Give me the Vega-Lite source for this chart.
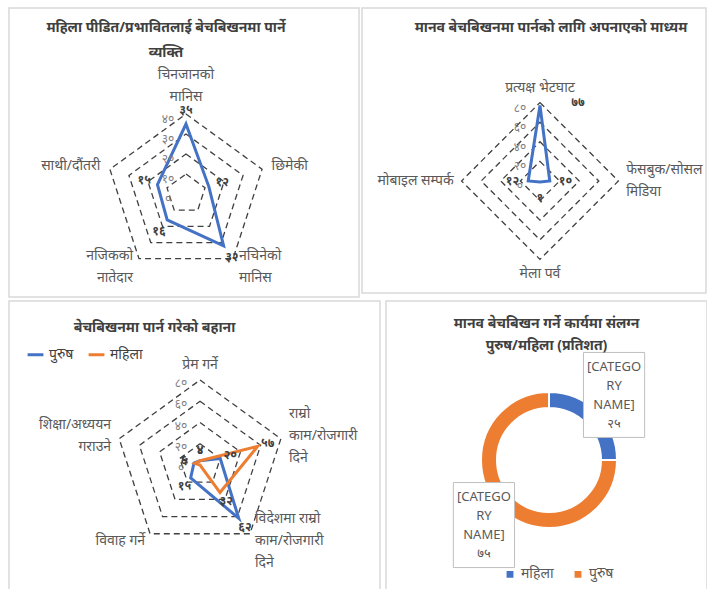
{
  "$schema": "https://vega.github.io/schema/vega-lite/v6.json",
  "background": "white",
  "padding": {"left": 8, "top": 7, "right": 0, "bottom": 0},
  "config": {
    "font": "Noto Sans",
    "view": {"stroke": "#d9d9d9", "strokeWidth": 1.5},
    "locale": {"number": {"decimal": ".", "thousands": ",", "grouping": [3], "currency": ["", ""], "numerals": ["०","१","२","३","४","५","६","७","८","९"]}}
  },
  "datasets": {
    "p1": [
      {"k": "चिनजानको\nमानिस", "i": 0, "v": 35},
      {"k": "छिमेकी", "i": 1, "v": 12},
      {"k": "नचिनेको\nमानिस", "i": 2, "v": 32},
      {"k": "नजिकको\nनातेदार", "i": 3, "v": 16},
      {"k": "साथी/दौंतरी", "i": 4, "v": 15}
    ],
    "p2": [
      {"k": "प्रत्यक्ष भेटघाट", "i": 0, "v": 77},
      {"k": "फेसबुक/सोसल\nमिडिया", "i": 1, "v": 10},
      {"k": "मेला पर्व", "i": 2, "v": 1},
      {"k": "मोबाइल सम्पर्क", "i": 3, "v": 12}
    ],
    "p3": [
      {"k": "प्रेम गर्ने", "i": 0, "s": "पुरुष", "v": 4},
      {"k": "राम्रो\nकाम/रोजगारी\nदिने", "i": 1, "s": "पुरुष", "v": 20},
      {"k": "विदेशमा राम्रो\nकाम/रोजगारी\nदिने", "i": 2, "s": "पुरुष", "v": 62},
      {"k": "विवाह गर्ने", "i": 3, "s": "पुरुष", "v": 15},
      {"k": "शिक्षा/अध्ययन\nगराउने", "i": 4, "s": "पुरुष", "v": 6},
      {"k": "प्रेम गर्ने", "i": 0, "s": "महिला", "v": 4},
      {"k": "राम्रो\nकाम/रोजगारी\nदिने", "i": 1, "s": "महिला", "v": 57},
      {"k": "विदेशमा राम्रो\nकाम/रोजगारी\nदिने", "i": 2, "s": "महिला", "v": 32},
      {"k": "विवाह गर्ने", "i": 3, "s": "महिला", "v": 0},
      {"k": "शिक्षा/अध्ययन\nगराउने", "i": 4, "s": "महिला", "v": 5}
    ],
    "p4": [
      {"g": "महिला", "v": 25, "i": 1},
      {"g": "पुरुष", "v": 75, "i": 2}
    ]
  },
  "spacing": 2,
  "resolve": {"scale": {"x": "independent", "y": "independent", "color": "independent"}, "legend": {"color": "independent"}},
  "vconcat": [
    {
      "spacing": 3,
      "bounds": "flush",
      "resolve": {"scale": {"x": "independent", "y": "independent", "color": "independent"}},
      "hconcat": [
        {
          "width": 350, "height": 289,
          "title": {"text": ["महिला पीडित/प्रभावितलाई बेचबिखनमा पार्ने", "व्यक्ति"], "anchor": "middle", "frame": "group", "offset": -52, "baseline": "top", "dx": -18, "fontSize": 14, "fontWeight": "bold", "color": "#404040", "lineHeight": 25},
          "layer": [
            {
              "data": {"name": "p1"},
              "transform": [
                {"calculate": "2*PI*datum.i/5", "as": "a"},
                {"calculate": "[10,20,30,40]", "as": "lv"},
                {"flatten": ["lv"]},
                {"calculate": "datum.lv*sin(datum.a)", "as": "gx"},
                {"calculate": "datum.lv*cos(datum.a)", "as": "gy"}
              ],
              "mark": {"type": "line", "interpolate": "linear-closed", "color": "#404040", "strokeWidth": 1.3, "strokeDash": [6, 4]},
              "encoding": {
                "x": {"field": "gx", "type": "quantitative", "scale": {"domain": [-88.5, 86.5], "nice": false, "zero": false}, "axis": null},
                "y": {"field": "gy", "type": "quantitative", "scale": {"domain": [-51.5, 93], "nice": false, "zero": false}, "axis": null},
                "detail": {"field": "lv", "type": "nominal"},
                "order": {"field": "i", "type": "quantitative"}
              }
            },
            {
              "data": {"name": "p1"},
              "transform": [
                {"calculate": "2*PI*datum.i/5", "as": "a"},
                {"calculate": "datum.v*sin(datum.a)", "as": "px"},
                {"calculate": "datum.v*cos(datum.a)", "as": "py"}
              ],
              "mark": {"type": "line", "interpolate": "linear-closed", "color": "#4472C4", "strokeWidth": 3},
              "encoding": {
                "x": {"field": "px", "type": "quantitative", "scale": {"domain": [-88.5, 86.5], "nice": false, "zero": false}, "axis": null},
                "y": {"field": "py", "type": "quantitative", "scale": {"domain": [-51.5, 93], "nice": false, "zero": false}, "axis": null},
                "order": {"field": "i", "type": "quantitative"}
              }
            },
            {
              "data": {"name": "p1"},
              "transform": [
                {"calculate": "2*PI*datum.i/5", "as": "a"},
                {"calculate": "(datum.v+7)*sin(datum.a)", "as": "lx"},
                {"calculate": "(datum.v+7)*cos(datum.a)", "as": "ly"}
              ],
              "mark": {"type": "text", "fontSize": 12, "fontWeight": "bold", "color": "#404040"},
              "encoding": {
                "x": {"field": "lx", "type": "quantitative", "scale": {"domain": [-88.5, 86.5], "nice": false, "zero": false}, "axis": null},
                "y": {"field": "ly", "type": "quantitative", "scale": {"domain": [-51.5, 93], "nice": false, "zero": false}, "axis": null},
                "text": {"field": "v", "type": "quantitative", "format": "d"}
              }
            },
            {
              "data": {"name": "p1"},
              "transform": [
                {"calculate": "2*PI*datum.i/5", "as": "a"},
                {"calculate": "45*sin(datum.a)", "as": "cx"},
                {"calculate": "45*cos(datum.a)", "as": "cy"}
              ],
              "mark": {"type": "text", "fontSize": 14, "color": "#595959", "lineBreak": "\n", "lineHeight": 22,
                "align": {"expr": "sin(datum.a) > 0.3 ? 'left' : (sin(datum.a) < -0.3 ? 'right' : 'center')"},
                "baseline": {"expr": "cos(datum.a) > 0.9 ? 'bottom' : (cos(datum.a) < -0.9 ? 'top' : 'middle')"},
                "dy": {"expr": "(cos(datum.a) > 0.9 ? -1 : (cos(datum.a) < -0.9 ? 0 : -0.5)) * (length(split(datum.k, '\\n')) - 1) * 22"}},
              "encoding": {
                "x": {"field": "cx", "type": "quantitative", "scale": {"domain": [-88.5, 86.5], "nice": false, "zero": false}, "axis": null},
                "y": {"field": "cy", "type": "quantitative", "scale": {"domain": [-51.5, 93], "nice": false, "zero": false}, "axis": null},
                "text": {"field": "k", "type": "nominal"}
              }
            },
            {
              "data": {"values": [{"t": 0}, {"t": 10}, {"t": 20}, {"t": 30}, {"t": 40}]},
              "mark": {"type": "text", "dx": -18, "dy": 5, "fontSize": 12, "color": "#7f7f7f"},
              "encoding": {
                "x": {"datum": 0, "type": "quantitative", "scale": {"domain": [-88.5, 86.5], "nice": false, "zero": false}, "axis": null},
                "y": {"field": "t", "type": "quantitative", "scale": {"domain": [-51.5, 93], "nice": false, "zero": false}, "axis": null},
                "text": {"field": "t", "type": "quantitative", "format": "d"}
              }
            }
          ]
        },
        {
          "width": 344, "height": 285,
          "title": {"text": "मानव बेचबिखनमा पार्नको लागि  अपनाएको माध्यम", "anchor": "middle", "frame": "group", "offset": -27, "baseline": "top", "dx": 17, "fontSize": 14, "fontWeight": "bold", "color": "#404040"},
          "layer": [
            {
              "data": {"name": "p2"},
              "transform": [
                {"calculate": "2*PI*datum.i/4", "as": "a"},
                {"calculate": "[20,40,60,80]", "as": "lv"},
                {"flatten": ["lv"]},
                {"calculate": "datum.lv*sin(datum.a)", "as": "gx"},
                {"calculate": "datum.lv*cos(datum.a)", "as": "gy"}
              ],
              "mark": {"type": "line", "interpolate": "linear-closed", "color": "#404040", "strokeWidth": 1.3, "strokeDash": [6, 4]},
              "encoding": {
                "x": {"field": "gx", "type": "quantitative", "scale": {"domain": [-181.6, 169.4], "nice": false, "zero": false}, "axis": null},
                "y": {"field": "gy", "type": "quantitative", "scale": {"domain": [-114.3, 176.5], "nice": false, "zero": false}, "axis": null},
                "detail": {"field": "lv", "type": "nominal"},
                "order": {"field": "i", "type": "quantitative"}
              }
            },
            {
              "data": {"name": "p2"},
              "transform": [
                {"calculate": "2*PI*datum.i/4", "as": "a"},
                {"calculate": "datum.v*sin(datum.a)", "as": "px"},
                {"calculate": "datum.v*cos(datum.a)", "as": "py"}
              ],
              "mark": {"type": "line", "interpolate": "linear-closed", "color": "#4472C4", "strokeWidth": 3},
              "encoding": {
                "x": {"field": "px", "type": "quantitative", "scale": {"domain": [-181.6, 169.4], "nice": false, "zero": false}, "axis": null},
                "y": {"field": "py", "type": "quantitative", "scale": {"domain": [-114.3, 176.5], "nice": false, "zero": false}, "axis": null},
                "order": {"field": "i", "type": "quantitative"}
              }
            },
            {
              "data": {"name": "p2"},
              "transform": [
                {"calculate": "2*PI*datum.i/4", "as": "a"},
                {"calculate": "(datum.v+16)*sin(datum.a)", "as": "lx"},
                {"calculate": "(datum.v+16)*cos(datum.a)", "as": "ly"}
              ],
              "mark": {"type": "text", "fontSize": 12, "fontWeight": "bold", "color": "#404040",
                "dx": {"expr": "cos(datum.a) > 0.9 ? 38 : 0"},
                "dy": {"expr": "cos(datum.a) > 0.9 ? 12 : 0"}},
              "encoding": {
                "x": {"field": "lx", "type": "quantitative", "scale": {"domain": [-181.6, 169.4], "nice": false, "zero": false}, "axis": null},
                "y": {"field": "ly", "type": "quantitative", "scale": {"domain": [-114.3, 176.5], "nice": false, "zero": false}, "axis": null},
                "text": {"field": "v", "type": "quantitative", "format": "d"}
              }
            },
            {
              "data": {"name": "p2"},
              "transform": [
                {"calculate": "2*PI*datum.i/4", "as": "a"},
                {"calculate": "88*sin(datum.a)", "as": "cx"},
                {"calculate": "88*cos(datum.a)", "as": "cy"}
              ],
              "mark": {"type": "text", "fontSize": 14, "color": "#595959", "lineBreak": "\n", "lineHeight": 22,
                "align": {"expr": "sin(datum.a) > 0.3 ? 'left' : (sin(datum.a) < -0.3 ? 'right' : 'center')"},
                "baseline": {"expr": "cos(datum.a) > 0.9 ? 'bottom' : (cos(datum.a) < -0.9 ? 'top' : 'middle')"},
                "dy": {"expr": "(cos(datum.a) > 0.9 ? -1 : (cos(datum.a) < -0.9 ? 0 : -0.5)) * (length(split(datum.k, '\\n')) - 1) * 22"}},
              "encoding": {
                "x": {"field": "cx", "type": "quantitative", "scale": {"domain": [-181.6, 169.4], "nice": false, "zero": false}, "axis": null},
                "y": {"field": "cy", "type": "quantitative", "scale": {"domain": [-114.3, 176.5], "nice": false, "zero": false}, "axis": null},
                "text": {"field": "k", "type": "nominal"}
              }
            },
            {
              "data": {"values": [{"t": 0}, {"t": 20}, {"t": 40}, {"t": 60}, {"t": 80}]},
              "mark": {"type": "text", "dx": -20, "dy": 5, "fontSize": 12, "color": "#7f7f7f"},
              "encoding": {
                "x": {"datum": 0, "type": "quantitative", "scale": {"domain": [-181.6, 169.4], "nice": false, "zero": false}, "axis": null},
                "y": {"field": "t", "type": "quantitative", "scale": {"domain": [-114.3, 176.5], "nice": false, "zero": false}, "axis": null},
                "text": {"field": "t", "type": "quantitative", "format": "d"}
              }
            }
          ]
        }
      ]
    },
    {
      "spacing": 6,
      "bounds": "flush",
      "resolve": {"scale": {"x": "independent", "y": "independent", "color": "independent"}, "legend": {"color": "independent"}},
      "hconcat": [
        {
          "width": 371, "height": 290,
          "title": {"text": "बेचबिखनमा पार्न गरेको बहाना", "anchor": "middle", "frame": "group", "offset": -34, "baseline": "top", "dx": -40, "fontSize": 14, "fontWeight": "bold", "color": "#404040"},
          "layer": [
            {
              "data": {"name": "p3"},
              "transform": [
                {"filter": "datum.s == 'पुरुष'"},
                {"calculate": "2*PI*datum.i/5", "as": "a"},
                {"calculate": "[20,40,60,80]", "as": "lv"},
                {"flatten": ["lv"]},
                {"calculate": "datum.lv*sin(datum.a)", "as": "gx"},
                {"calculate": "datum.lv*cos(datum.a)", "as": "gy"}
              ],
              "mark": {"type": "line", "interpolate": "linear-closed", "color": "#404040", "strokeWidth": 1.3, "strokeDash": [6, 4]},
              "encoding": {
                "x": {"field": "gx", "type": "quantitative", "scale": {"domain": [-179.8, 169.4], "nice": false, "zero": false}, "axis": null},
                "y": {"field": "gy", "type": "quantitative", "scale": {"domain": [-118.6, 154.4], "nice": false, "zero": false}, "axis": null},
                "detail": {"field": "lv", "type": "nominal"},
                "order": {"field": "i", "type": "quantitative"}
              }
            },
            {
              "data": {"name": "p3"},
              "transform": [
                {"calculate": "2*PI*datum.i/5", "as": "a"},
                {"calculate": "datum.v*sin(datum.a)", "as": "px"},
                {"calculate": "datum.v*cos(datum.a)", "as": "py"}
              ],
              "mark": {"type": "line", "interpolate": "linear-closed", "strokeWidth": 3},
              "encoding": {
                "x": {"field": "px", "type": "quantitative", "scale": {"domain": [-179.8, 169.4], "nice": false, "zero": false}, "axis": null},
                "y": {"field": "py", "type": "quantitative", "scale": {"domain": [-118.6, 154.4], "nice": false, "zero": false}, "axis": null},
                "order": {"field": "i", "type": "quantitative"},
                "color": {"field": "s", "type": "nominal", "scale": {"domain": ["पुरुष", "महिला"], "range": ["#4472C4", "#ED7D31"]},
                  "legend": {"orient": "none", "legendX": 17, "legendY": 44, "direction": "horizontal", "title": null, "symbolType": "stroke", "symbolSize": 250, "symbolStrokeWidth": 3, "labelFontSize": 14, "labelColor": "#404040", "columnPadding": 8}}
              }
            },
            {
              "data": {"name": "p3"},
              "transform": [
                {"filter": "datum.v > 0"},
                {"calculate": "2*PI*datum.i/5", "as": "a"},
                {"calculate": "(datum.v+10)*sin(datum.a)", "as": "lx"},
                {"calculate": "(datum.v+10)*cos(datum.a)", "as": "ly"}
              ],
              "mark": {"type": "text", "fontSize": 12, "fontWeight": "bold", "color": "#404040"},
              "encoding": {
                "x": {"field": "lx", "type": "quantitative", "scale": {"domain": [-179.8, 169.4], "nice": false, "zero": false}, "axis": null},
                "y": {"field": "ly", "type": "quantitative", "scale": {"domain": [-118.6, 154.4], "nice": false, "zero": false}, "axis": null},
                "text": {"field": "v", "type": "quantitative", "format": "d"}
              }
            },
            {
              "data": {"name": "p3"},
              "transform": [
                {"filter": "datum.s == 'पुरुष'"},
                {"calculate": "2*PI*datum.i/5", "as": "a"},
                {"calculate": "88*sin(datum.a)", "as": "cx"},
                {"calculate": "88*cos(datum.a)", "as": "cy"}
              ],
              "mark": {"type": "text", "fontSize": 14, "color": "#595959", "lineBreak": "\n", "lineHeight": 22,
                "align": {"expr": "sin(datum.a) > 0.3 ? 'left' : (sin(datum.a) < -0.3 ? 'right' : 'center')"},
                "baseline": {"expr": "cos(datum.a) > 0.9 ? 'bottom' : (cos(datum.a) < -0.9 ? 'top' : 'middle')"},
                "dy": {"expr": "(cos(datum.a) > 0.9 ? -1 : (cos(datum.a) < -0.9 ? 0 : -0.5)) * (length(split(datum.k, '\\n')) - 1) * 22"}},
              "encoding": {
                "x": {"field": "cx", "type": "quantitative", "scale": {"domain": [-179.8, 169.4], "nice": false, "zero": false}, "axis": null},
                "y": {"field": "cy", "type": "quantitative", "scale": {"domain": [-118.6, 154.4], "nice": false, "zero": false}, "axis": null},
                "text": {"field": "k", "type": "nominal"}
              }
            },
            {
              "data": {"values": [{"t": 0}, {"t": 20}, {"t": 40}, {"t": 60}, {"t": 80}]},
              "mark": {"type": "text", "dx": -19, "dy": 3, "fontSize": 12, "color": "#7f7f7f"},
              "encoding": {
                "x": {"datum": 0, "type": "quantitative", "scale": {"domain": [-179.8, 169.4], "nice": false, "zero": false}, "axis": null},
                "y": {"field": "t", "type": "quantitative", "scale": {"domain": [-118.6, 154.4], "nice": false, "zero": false}, "axis": null},
                "text": {"field": "t", "type": "quantitative", "format": "d"}
              }
            }
          ]
        },
        {
          "width": 321, "height": 290,
          "title": {"text": ["मानव बेचबिखन गर्ने कार्यमा संलग्न", "पुरुष/महिला (प्रतिशत)"], "anchor": "middle", "frame": "group", "offset": -52, "baseline": "top", "fontSize": 14, "fontWeight": "bold", "color": "#404040", "lineHeight": 22},
          "layer": [
            {
              "data": {"name": "p4"},
              "mark": {"type": "arc", "outerRadius": 68, "innerRadius": 52, "stroke": "white", "strokeWidth": 2},
              "encoding": {
                "x": {"datum": 0, "type": "quantitative", "scale": {"domain": [-163, 158], "nice": false, "zero": false}, "axis": null},
                "y": {"datum": 0, "type": "quantitative", "scale": {"domain": [-131, 159], "nice": false, "zero": false}, "axis": null},
                "theta": {"field": "v", "type": "quantitative", "stack": true},
                "order": {"field": "i", "type": "quantitative"},
                "color": {"field": "g", "type": "nominal", "scale": {"domain": ["महिला", "पुरुष"], "range": ["#4472C4", "#ED7D31"]},
                  "legend": {"orient": "none", "legendX": 117, "legendY": 266, "direction": "horizontal", "title": null, "symbolType": "square", "symbolSize": 70, "labelFontSize": 14, "labelColor": "#595959", "columnPadding": 16}}
              }
            },
            {
              "data": {"name": "p4"},
              "transform": [
                {"joinaggregate": [{"op": "sum", "field": "v", "as": "tot"}]},
                {"window": [{"op": "sum", "field": "v", "as": "cum"}], "sort": [{"field": "i"}], "frame": [null, 0]},
                {"calculate": "2*PI*(datum.cum - datum.v/2)/datum.tot", "as": "m"},
                {"calculate": "92*sin(datum.m)", "as": "lx"},
                {"calculate": "92*cos(datum.m)", "as": "ly"}
              ],
              "mark": {"type": "point", "shape": "M-0.72,-1H0.72V1H-0.72Z", "size": 7225, "filled": true, "fill": "white", "stroke": "#bfbfbf", "strokeWidth": 1, "opacity": 1},
              "encoding": {
                "x": {"field": "lx", "type": "quantitative", "scale": {"domain": [-163, 158], "nice": false, "zero": false}, "axis": null},
                "y": {"field": "ly", "type": "quantitative", "scale": {"domain": [-131, 159], "nice": false, "zero": false}, "axis": null}
              }
            },
            {
              "data": {"name": "p4"},
              "transform": [
                {"joinaggregate": [{"op": "sum", "field": "v", "as": "tot"}]},
                {"window": [{"op": "sum", "field": "v", "as": "cum"}], "sort": [{"field": "i"}], "frame": [null, 0]},
                {"calculate": "2*PI*(datum.cum - datum.v/2)/datum.tot", "as": "m"},
                {"calculate": "92*sin(datum.m)", "as": "lx"},
                {"calculate": "92*cos(datum.m)", "as": "ly"},
                {"calculate": "'[CATEGO\\nRY\\nNAME]\\n' + format(datum.v, 'd')", "as": "lab"}
              ],
              "mark": {"type": "text", "fontSize": 13, "color": "#595959", "lineBreak": "\n", "lineHeight": 19, "align": "center", "baseline": "middle", "dy": -28},
              "encoding": {
                "x": {"field": "lx", "type": "quantitative", "scale": {"domain": [-163, 158], "nice": false, "zero": false}, "axis": null},
                "y": {"field": "ly", "type": "quantitative", "scale": {"domain": [-131, 159], "nice": false, "zero": false}, "axis": null},
                "text": {"field": "lab", "type": "nominal"}
              }
            }
          ]
        }
      ]
    }
  ]
}
